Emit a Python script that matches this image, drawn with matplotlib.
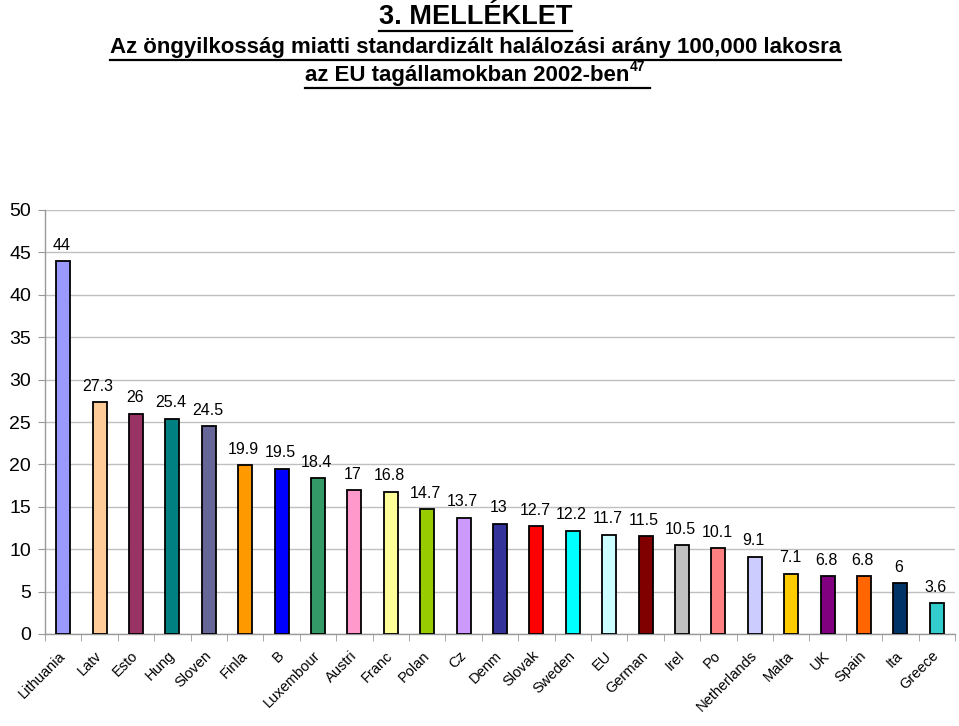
import matplotlib
matplotlib.use("Agg")
import matplotlib.pyplot as plt
from matplotlib.lines import Line2D

countries = ["Lithuania", "Latv", "Esto", "Hung", "Sloven", "Finla", "B", "Luxembour",
             "Austri", "Franc", "Polan", "Cz", "Denm", "Slovak", "Sweden", "EU",
             "German", "Irel", "Po", "Netherlands", "Malta", "UK", "Spain", "Ita", "Greece"]
values = [44, 27.3, 26, 25.4, 24.5, 19.9, 19.5, 18.4, 17, 16.8, 14.7, 13.7, 13, 12.7,
          12.2, 11.7, 11.5, 10.5, 10.1, 9.1, 7.1, 6.8, 6.8, 6, 3.6]
value_labels = ["44", "27.3", "26", "25.4", "24.5", "19.9", "19.5", "18.4", "17", "16.8",
                "14.7", "13.7", "13", "12.7", "12.2", "11.7", "11.5", "10.5", "10.1", "9.1",
                "7.1", "6.8", "6.8", "6", "3.6"]
colors = ["#9999FF", "#FFCC99", "#993366", "#008080", "#666699", "#FF9900", "#0000FF",
          "#339966", "#FF99CC", "#FFFF99", "#99CC00", "#CC99FF", "#333399", "#FF0000",
          "#00FFFF", "#CCFFFF", "#800000", "#C0C0C0", "#FF8080", "#CCCCFF", "#FFCC00",
          "#800080", "#FF6600", "#003366", "#33CCCC"]
yticks = [0, 5, 10, 15, 20, 25, 30, 35, 40, 45, 50]

plt.rcParams['font.family'] = ['Liberation Sans', 'DejaVu Sans']

W, H = 959, 726
fig = plt.figure(figsize=(W / 100, H / 100), dpi=100)
ax = fig.add_axes([45 / W, 1 - 634 / H, (955 - 45) / W, (634 - 210) / H])

x = list(range(len(values)))
ax.bar(x, values, width=0.39, color=colors, edgecolor="black", linewidth=1.3, zorder=3)
for xi, v, lab in zip(x, values, value_labels):
    ax.annotate(lab, (xi, v), xytext=(-1, 6), textcoords="offset points",
                ha="center", va="bottom", fontsize=11.5, color="black")

ax.set_xlim(-0.5, len(values) - 0.5)
ax.set_ylim(0, 50)
ax.set_yticks(yticks)
ax.set_yticklabels([str(t) for t in yticks], fontsize=14)
ax.yaxis.grid(True, color="#C0C0C0", linewidth=1.0, zorder=0)
ax.set_xticks(x)
ax.set_xticklabels(countries, rotation=45, ha="right", va="center",
                   rotation_mode="anchor", fontsize=10.5)
ax.set_xticks([i + 0.5 for i in range(-1, len(values))], minor=True)
ax.tick_params(axis="x", which="major", length=0, pad=14)
ax.tick_params(axis="x", which="minor", length=5, color="#999999", direction="out")
ax.tick_params(axis="y", length=5, color="#999999", pad=5)
for s in ["top", "right"]:
    ax.spines[s].set_visible(False)
for s in ["left", "bottom"]:
    ax.spines[s].set_color("#999999")
    ax.spines[s].set_linewidth(1.0)

# Titles with underline
title_font = ['Liberation Sans Narrow', 'Liberation Sans', 'DejaVu Sans']
renderer = fig.canvas.get_renderer()

def underline(texts, y_px, extra=0):
    bbs = [t.get_window_extent(renderer) for t in texts]
    x0 = min(b.x0 for b in bbs)
    x1 = max(b.x1 for b in bbs) + extra
    yy = 1 - y_px / H
    fig.add_artist(Line2D([x0 / W, x1 / W], [yy, yy], transform=fig.transFigure,
                          color="black", linewidth=1.6))

t1 = fig.text(0.496, 1 - 17 / H, "3. MELLÉKLET", ha="center", va="center",
              fontsize=19.5, fontweight="bold", family=title_font)
underline([t1], 31)
t2 = fig.text(0.496, 1 - 47 / H, "Az öngyilkosság miatti standardizált halálozási arány 100,000 lakosra",
              ha="center", va="center", fontsize=16, fontweight="bold", family=title_font)
underline([t2], 60)
t3 = fig.text(0.487, 1 - 75 / H, "az EU tagállamokban 2002-ben",
              ha="center", va="center", fontsize=16, fontweight="bold", family=title_font)
bb3 = t3.get_window_extent(renderer)
t4 = fig.text(bb3.x1 / W + 0.001, 1 - 67 / H, "47", ha="left", va="center",
              fontsize=10, fontweight="bold", family=title_font)
underline([t3, t4], 88, extra=4)

fig.savefig("out.png", dpi=100)
